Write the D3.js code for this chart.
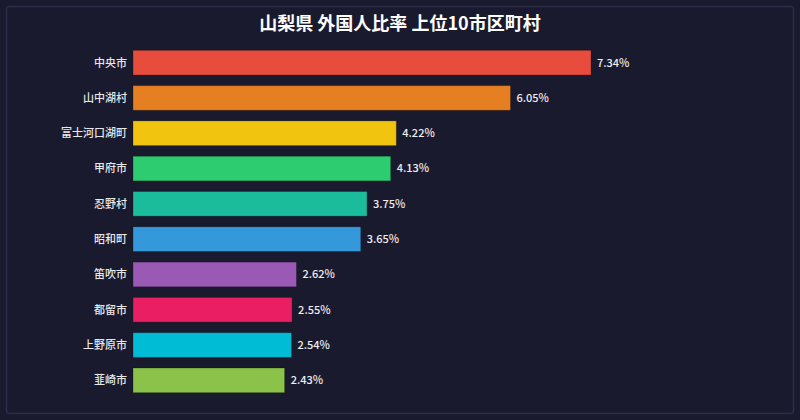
<!DOCTYPE html>
<html>
<head>
<meta charset="utf-8">
<script src="https://cdn.jsdelivr.net/npm/d3@7"></script>
<style>
  html, body { margin: 0; padding: 0; background: #1a1a2e; }
  svg { display: block; font-family: "Noto Sans CJK JP", "Noto Sans", sans-serif; }
</style>
</head>
<body>
<svg id="chart" width="800" height="420"></svg>
<script>
// data
const title = '山梨県 外国人比率 上位10市区町村';
const names = ['中央市', '山中湖村', '富士河口湖町', '甲府市', '忍野村', '昭和町', '笛吹市', '都留市', '上野原市', '韮崎市'];
const rates = [7.34, 6.05, 4.22, 4.13, 3.75, 3.65, 2.62, 2.55, 2.54, 2.43];
const colors = ['#e74c3c', '#e67e22', '#f1c40f', '#2ecc71', '#1abc9c', '#3498db', '#9b59b6', '#e91e63', '#00bcd4', '#8bc34a'];

const width = 800, height = 420;
const margin = { top: 45, left: 133, bottom: 22 };

const svg = d3.select('#chart');

// outer panel
svg.append('rect')
    .attr('x', 6.5).attr('y', 6.5)
    .attr('width', width - 13).attr('height', height - 13)
    .attr('rx', 3)
    .attr('fill', '#1a1a2e')
    .attr('stroke', '#2c2c48')
    .attr('stroke-width', 1.5);

svg.append('text')
    .attr('x', width / 2).attr('y', 30)
    .attr('text-anchor', 'middle')
    .attr('fill', '#ffffff')
    .attr('font-size', 18)
    .attr('font-weight', 'bold')
    .text(title);

const x = d3.scaleLinear()
    .domain([0, 7.34])
    .range([margin.left, 591]);

const y = d3.scaleBand()
    .domain(names)
    .range([margin.top, height - margin.bottom])
    .paddingInner(0.3)
    .paddingOuter(0.15);

const rows = d3.zip(names, rates, colors);

svg.selectAll('rect.bar')
    .data(rows)
    .enter()
        .append('rect')
            .attr('class', 'bar')
            .attr('x', x(0))
            .attr('y', d => y(d[0]))
            .attr('width', d => x(d[1]) - x(0))
            .attr('height', y.bandwidth())
            .attr('fill', d => d[2])
            .attr('stroke', 'rgba(0,0,0,0.25)')
            .attr('stroke-width', 1);

// category labels
svg.selectAll('text.name')
    .data(rows)
    .enter()
        .append('text')
            .attr('class', 'name')
            .attr('x', x(0) - 6)
            .attr('y', d => y(d[0]) + y.bandwidth() / 2)
            .attr('dy', '0.35em')
            .attr('text-anchor', 'end')
            .attr('fill', '#e8e8e8')
            .attr('font-size', 11)
            .attr('font-weight', 500)
            .text(d => d[0]);

// value labels
svg.selectAll('text.value')
    .data(rows)
    .enter()
        .append('text')
            .attr('class', 'value')
            .attr('x', d => x(d[1]) + 6)
            .attr('y', d => y(d[0]) + y.bandwidth() / 2)
            .attr('dy', '0.35em')
            .attr('fill', '#eeeeee')
            .attr('font-size', 11)
            .attr('font-weight', 500)
            .text(d => d[1].toFixed(2) + '%');
</script>
</body>
</html>
